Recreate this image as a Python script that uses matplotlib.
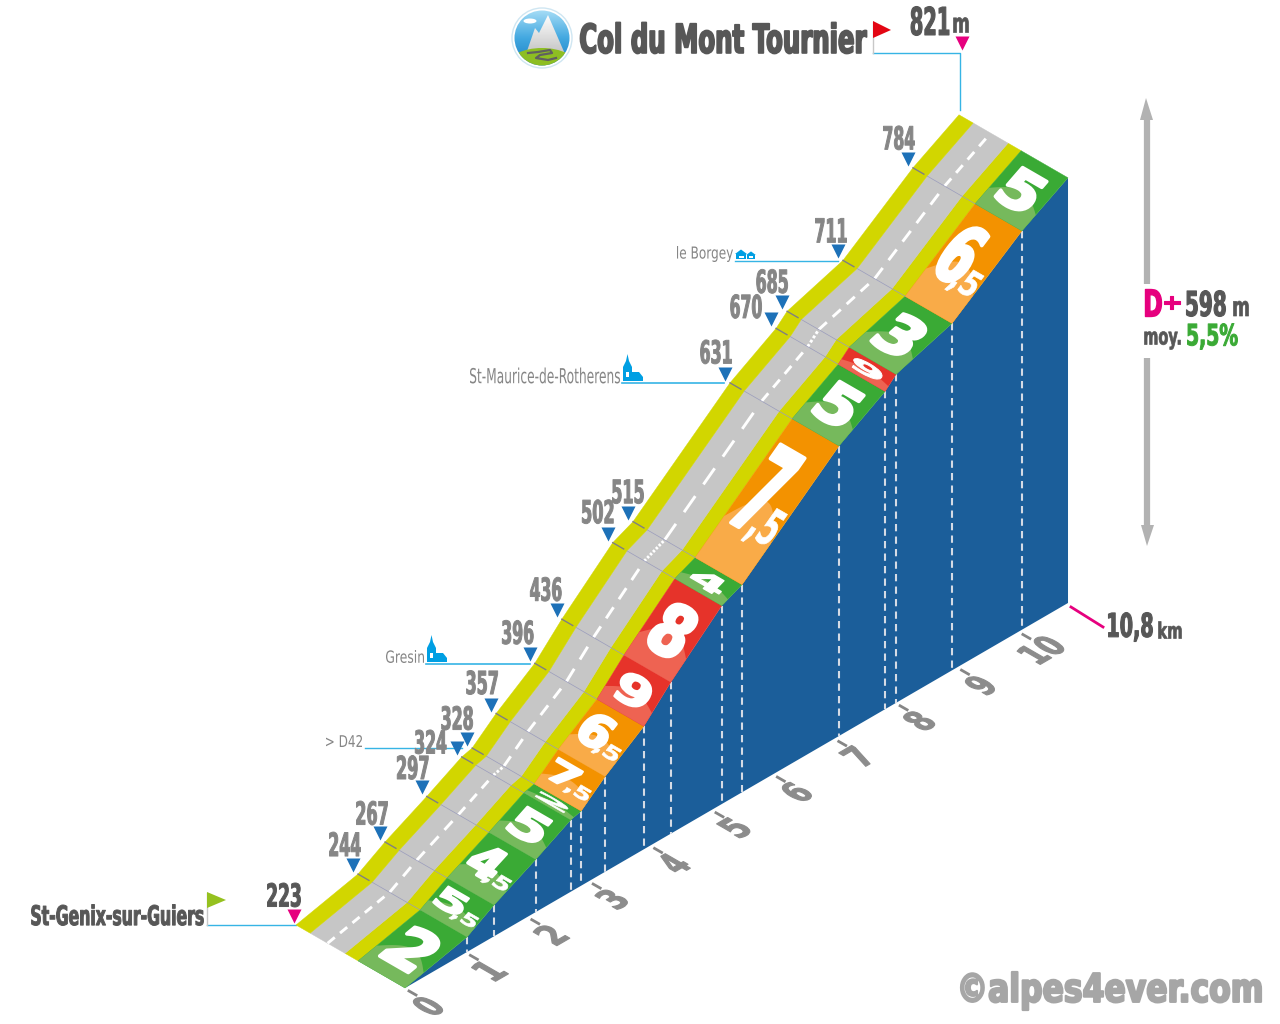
import numpy as np
import matplotlib
matplotlib.use("Agg")
import matplotlib.pyplot as plt
from matplotlib.colors import LinearSegmentedColormap
from matplotlib.font_manager import FontProperties
from matplotlib.patches import Circle, Ellipse, Polygon
from matplotlib.patheffects import AbstractPathEffect
from matplotlib.textpath import TextPath
from matplotlib.transforms import Affine2D

# profile of the climb
KM = [0, 1.01, 1.45, 2.13, 2.70, 2.87, 3.26, 3.89, 4.33, 5.16, 5.49, 7.07, 7.82, 8.0, 8.91, 10.05, 10.8]
ALT = [223, 244, 267, 297, 324, 328, 357, 396, 436, 502, 515, 631, 670, 685, 711, 784, 821]
GRADES = ["2", "5,5", "4,5", "5", "2", "7,5", "6,5", "9", "8", "4", "7,5", "5", "9", "3", "6,5", "5"]
DOTTED = [4, 9, 12]
KM_TICKS = list(range(0, 11))

TITLE = "Col du Mont Tournier"
START = "St-Genix-sur-Guiers"
PLACES = ["le Borgey", "St-Maurice-de-Rotherens", "Gresin", "> D42"]

# projection, in pixels
ORIGIN = np.array([405.0, 988.0])
KM_VEC = np.array([61.39, -35.65])
LAT_VEC = np.array([-109.0, -63.0])
M_PX = 0.711
DPI = 100
H = 1024

GREEN, GREEN_L = "#3AAA35", "#76B95C"
ORANGE, ORANGE_L = "#F39200", "#F9AB48"
RED, RED_L = "#E6332A", "#EE6352"
YELLOW = "#D2D600"
ROAD = "#C6C6C6"
WALL = "#1B5E9A"
BLUE = "#1D71B8"
PINK = "#E6007E"
CYAN = "#36B4E5"
ICON = "#009FE3"
DARK = "#575757"
GREY = "#868686"

fig = plt.figure(figsize=(12.8, 10.24), dpi=DPI)
ax = fig.add_axes([0, 0, 1, 1])


def point(km, alt, s=0.0):
    return ORIGIN + km * KM_VEC + np.array([0, -M_PX * (alt - ALT[0])]) + s * LAT_VEC


def profile(s):
    return [point(k, a, s) for k, a in zip(KM, ALT)]


class Warp(AbstractPathEffect):
    # maps the text through a 2x2 matrix around its origin, the text stays real text
    def __init__(self, matrix, anchor, stroke=0.0):
        super().__init__()
        m = np.eye(3)
        m[:2, :2] = matrix
        self.extra = Affine2D().translate(-anchor[0], -anchor[1]) + Affine2D(m) + Affine2D().translate(*anchor)
        self.stroke = stroke

    def draw_path(self, renderer, gc, tpath, affine, rgbFace=None):
        gc0 = renderer.new_gc()
        gc0.copy_properties(gc)
        if self.stroke:
            gc0.set_linewidth(self.stroke)
            gc0.set_foreground(rgbFace)
        renderer.draw_path(gc0, tpath, affine + self.extra, rgbFace)
        gc0.restore()


def fit(cx, cy, s, w, h, color, ex=(1, 0), ey=(0, 1), weight="bold", family="DejaVu Sans", stroke=0.0, z=10,
        shrink=1.0):
    # text whose glyph box is w x h px, centred on cx, cy; ex and ey are the text axes on screen
    prop = FontProperties(family=family, weight=weight)
    box = TextPath((0, 0), s, size=10, prop=prop).get_extents()
    k = DPI / 72.0
    w0, h0 = box.width * k, box.height * k
    size = 10 * min(w / w0, h / h0) * shrink
    f = size / 10.0
    mid = np.array([(box.x0 + box.x1) / 2, (box.y0 + box.y1) / 2]) * k * f
    matrix = np.column_stack([np.array(ex) * w / (w0 * f), np.array(ey) * h / (h0 * f)])
    origin = np.array([cx, H - cy]) - matrix @ mid
    prop.set_size(size)
    ax.text(origin[0], H - origin[1], s, fontproperties=prop, color=color, ha="left", va="baseline", zorder=z,
            path_effects=[Warp(matrix, origin, stroke)])


def unit(v):
    v = np.array(v, dtype=float)
    return v / np.hypot(*v)


# ---- blue wall
front = profile(0)
wall = front + [ORIGIN + 10.8 * KM_VEC]
ax.add_patch(Polygon(wall, closed=True, fc=WALL, ec="none", zorder=1))
for k, p in zip(KM[1:-1], front[1:-1]):
    g = ORIGIN + k * KM_VEC
    ax.plot([p[0], g[0]], [p[1], g[1]], color="#D5DBE5", lw=1.5, dashes=(3.5, 2.5), zorder=2)

# ---- road strips
for s0, s1, col in [(0.43, 0.55, YELLOW), (0.55, 0.87, ROAD), (0.87, 1.0, YELLOW)]:
    ax.add_patch(Polygon(profile(s0) + profile(s1)[::-1], closed=True, fc=col, ec=col, lw=0.3, zorder=3))

# ---- gradient bands
for i, label in enumerate(GRADES):
    g = float(label.replace(",", "."))
    dark, light = (GREEN, GREEN_L) if g <= 5.5 else (ORANGE, ORANGE_L) if g <= 7.5 else (RED, RED_L)
    k0, k1, a0, a1 = KM[i], KM[i + 1], ALT[i], ALT[i + 1]
    quad = [point(k0, a0), point(k1, a1), point(k1, a1, 0.43), point(k0, a0, 0.43)]
    ax.add_patch(Polygon(quad, closed=True, fc=dark, ec=dark, lw=0.3, zorder=4))
    # lighter lower part with a rounded top
    curve = []
    for t in np.linspace(0, 1, 24):
        u = 0.3 + 0.2 * np.sin(np.pi * t)
        curve.append(point(k0 + u * (k1 - k0), a0 + u * (a1 - a0), 0.43 * t))
    ax.add_patch(Polygon([quad[0]] + curve + [quad[3]], closed=True, fc=light, ec="none", zorder=5))

    # the figure, lying on the band
    p0, p1 = point(k0, a0, 0.215), point(k1, a1, 0.215)
    along = p1 - p0
    length = np.hypot(*along)
    mid = (p0 + p1) / 2
    ex = unit([-LAT_VEC[0], LAT_VEC[1]])
    ey = unit([along[0], -along[1]])
    lat_px, up_px = -unit(LAT_VEC), unit(along)
    heavy = min(2.6, 0.035 * length)
    if "," in label:
        big, small = label.split(",")
        c = mid + lat_px * -8 + up_px * 0.06 * length
        fit(c[0], c[1], big, 28, 0.55 * length, "white", ex, ey, z=6, stroke=heavy, shrink=0.5)
        c = mid + lat_px * 13 - up_px * 0.14 * length
        fit(c[0], c[1], "," + small, 25, max(0.27 * length, 15), "white", ex, ey, z=6, stroke=0.5, shrink=0.5)
    else:
        fit(mid[0], mid[1], label, 33, 0.6 * length, "white", ex, ey, z=6, stroke=heavy, shrink=0.5)

# ---- centre line
for i in range(len(KM) - 1):
    k0, k1, a0, a1 = KM[i], KM[i + 1], ALT[i], ALT[i + 1]
    span = k1 - k0
    period = 0.05 if i in DOTTED else 0.33 if span > 1.4 else 0.21
    n = max(1, int(round(span / period)))
    for j in range(n):
        t0, t1 = j / n, (j + 0.58) / n
        p = point(k0 + t0 * span, a0 + t0 * (a1 - a0), 0.71)
        q = point(k0 + t1 * span, a0 + t1 * (a1 - a0), 0.71)
        ax.plot([p[0], q[0]], [p[1], q[1]], color="white", lw=2.1, solid_capstyle="butt", zorder=6)

# ---- cross lines at each waypoint
for k, a in zip(KM[1:-1], ALT[1:-1]):
    p, q = point(k, a, 0.87), point(k, a, 0.43)
    ax.plot([p[0], q[0]], [p[1], q[1]], color="#9A9CBC", lw=0.5, zorder=7)
    p, q = point(k, a, 1.0), point(k, a, 0.9)
    ax.plot([p[0], q[0]], [p[1], q[1]], color="#808080", lw=1.0, zorder=7)

# ---- altitude labels
shifts = {244: (-8, -21), 267: (-8, -20), 297: (-9, -20), 324: (-26, -6), 328: (-10, -21), 357: (-9, -22),
          396: (-12, -22), 436: (-11, -21), 502: (-10, -22), 515: (0, -21), 631: (-9, -22), 670: (-25, -13),
          685: (-10, -21), 711: (-7, -21), 784: (-9, -21)}
for k, a in zip(KM[1:-1], ALT[1:-1]):
    p = point(k, a, 1.0) + np.array([-5, -9])
    ax.plot(p[0], p[1], marker="v", ms=10, mfc=BLUE, mec="none", ls="none", zorder=8)
    dx, dy = shifts[a]
    fit(p[0] + dx, p[1] + dy, str(a), 31, 24, GREY, z=9, stroke=0.7)

# ---- km scale on the ground
km_dir = unit([KM_VEC[0], -KM_VEC[1]])
up_dir = np.array([-0.866, 0.5])
for k in KM_TICKS:
    g = ORIGIN + k * KM_VEC
    ax.plot([g[0] + 4, g[0] + 11], [g[1] + 3, g[1] + 7], color=GREY, lw=2, zorder=2)
    w = 15 if k < 10 else 32
    fit(g[0] + 23, g[1] + 18, str(k), w, 29, "#8C8C8C", km_dir, up_dir, stroke=0.8)

# ---- start
ax.plot([207, 296], [925, 925], color=CYAN, lw=1, zorder=2)
ax.plot([207, 207], [893, 925], color="#C8C8C8", lw=1, zorder=2)
ax.add_patch(Polygon([(207, 892), (226, 900), (207, 908)], closed=True, fc="#95C11F", ec="none", zorder=3))
fit(117.5, 915, START, 172, 21, DARK, stroke=0.7)
fit(284, 895, str(ALT[0]), 33, 24, DARK, stroke=0.7)
ax.plot(294, 916, marker="v", ms=10, mfc=PINK, mec="none", ls="none", zorder=8)

# ---- summit
ax.plot([873, 960, 960], [53, 53, 110], color=CYAN, lw=1, zorder=2)
ax.plot([873, 873], [22, 53], color="#C8C8C8", lw=1, zorder=2)
ax.add_patch(Polygon([(873, 21), (891, 30), (873, 38)], closed=True, fc="#E30613", ec="none", zorder=3))
fit(930, 21, str(ALT[-1]), 38, 29, DARK, stroke=0.8)
fit(961, 25, "m", 15, 15, DARK, stroke=0.5)
ax.plot(962, 43, marker="v", ms=10, mfc=PINK, mec="none", ls="none", zorder=8)
fit(723.5, 38, TITLE, 286, 31, DARK, stroke=1.3)

# ---- logo
ax.add_patch(Circle((542, 38), 30, fc="white", ec="#CFE6F2", lw=1, zorder=2))
clip = Circle((542, 38), 27.5, transform=ax.transData)
sky_map = LinearSegmentedColormap.from_list("sky", ["#A5DCF6", "#42A8E0", "#1A80C4"])
sky = ax.imshow(np.linspace(0, 1, 64)[:, None], extent=(514, 570, 66, 10), cmap=sky_map, aspect="auto", zorder=3)
sky.set_clip_path(clip)
snow_map = LinearSegmentedColormap.from_list("snow", ["#FFFFFF", "#C4C4C4"])
snow = ax.imshow(np.linspace(0, 1, 32)[:, None], extent=(520, 570, 54, 14), cmap=snow_map, aspect="auto", zorder=4)
snow.set_clip_path(Polygon([(526, 54), (535, 28), (539, 33), (548, 15), (565, 54)], closed=True, transform=ax.transData))
for patch in [Ellipse((530, 21), 13, 5, fc="white", ec="none", zorder=5),
              Ellipse((542, 66), 70, 36, fc="#8DBE22", ec="none", zorder=5)]:
    ax.add_patch(patch)
    patch.set_clip_path(clip)
road_line, = ax.plot([528, 538, 550, 552, 540, 536, 548, 556], [53, 52, 50, 53, 55, 58, 60, 58], color="#606060",
                     lw=1.6, zorder=6)
road_line.set_clip_path(clip)

# ---- right column
ARROW = "#B2B2B2"
ax.plot([1147, 1147], [115, 284], color=ARROW, lw=4.5, solid_capstyle="butt", zorder=2)
ax.plot([1147, 1147], [358, 530], color=ARROW, lw=4.5, solid_capstyle="butt", zorder=2)
ax.add_patch(Polygon([(1140, 120), (1146, 98), (1153, 120)], closed=True, fc=ARROW, ec="none", zorder=3))
ax.add_patch(Polygon([(1141, 525), (1147, 546), (1154, 525)], closed=True, fc=ARROW, ec="none", zorder=3))
fit(1153.5, 303, "D", 16, 27, PINK, stroke=1.0)
fit(1171.5, 302.5, "+", 16, 13, PINK, stroke=0.8)
fit(1206, 303.5, "598", 39, 26, DARK, stroke=0.8)
fit(1241, 308.5, "m", 15, 15, DARK, stroke=0.5)
fit(1162.5, 340.5, "moy.", 36, 18, DARK, stroke=0.5)
fit(1212.5, 336.5, "5,5%", 50, 26, GREEN, stroke=0.7)
ax.plot([1071, 1103], [607, 627], color=PINK, lw=2, zorder=2)
fit(1130.5, 627, "10,8", 44, 29, DARK, stroke=0.8)
fit(1170, 630, "km", 23, 17, DARK, stroke=0.5)

# ---- places
fit(705, 254, PLACES[0], 56, 16, GREY, weight="normal", family="Liberation Sans Narrow")
fit(545, 375.5, PLACES[1], 150, 16, GREY, weight="normal", family="Liberation Sans Narrow")
fit(405, 656.5, PLACES[2], 38, 13, GREY, weight="normal", family="Liberation Sans Narrow")
fit(344, 741, PLACES[3], 36, 12, GREY, weight="normal", family="Liberation Sans Narrow")
ax.plot([735, 838], [261, 261], color=CYAN, lw=1, zorder=2)
ax.plot([622, 724], [383, 383], color=CYAN, lw=1.2, zorder=2)
ax.plot([426, 530], [664, 664], color=CYAN, lw=1.2, zorder=2)
ax.plot([365, 462], [748, 748], color=CYAN, lw=1, zorder=2)


def church(x, y):
    # x, y is the bottom left corner
    ax.add_patch(Polygon([(x, y), (x, y - 14), (x + 3, y - 20), (x + 4.5, y - 27), (x + 6, y - 20), (x + 9, y - 14),
                          (x + 9, y - 9), (x + 16, y - 9), (x + 20, y - 4), (x + 20, y)],
                         closed=True, fc=ICON, ec="none", zorder=3))
    ax.add_patch(Polygon([(x + 3, y - 4), (x + 3, y - 9), (x + 6, y - 9), (x + 6, y - 4)], closed=True, fc="white",
                         ec="none", zorder=4))


def house(x, y, w):
    ax.add_patch(Polygon([(x - 1.2 * w, y - w), (x, y - 1.9 * w), (x + 1.2 * w, y - w), (x + w, y - w), (x + w, y),
                          (x - w, y), (x - w, y - w)], closed=True, fc=ICON, ec="none", zorder=3))
    ax.add_patch(Polygon([(x - w * 0.5, y - w * 0.3), (x - w * 0.5, y - w * 0.7), (x + w * 0.5, y - w * 0.7),
                          (x + w * 0.5, y - w * 0.3)], closed=True, fc="white", ec="none", zorder=4))


church(623, 381)
church(427, 662)
house(741, 259, 5)
house(751, 259, 4)

# ---- watermark
fit(1111, 991, "©alpes4ever.com", 300, 38, "#A6A6A6", stroke=1.6)

ax.set_xlim(0, 1280)
ax.set_ylim(H, 0)
ax.axis("off")
fig.savefig("out.png", dpi=DPI, facecolor="white")
